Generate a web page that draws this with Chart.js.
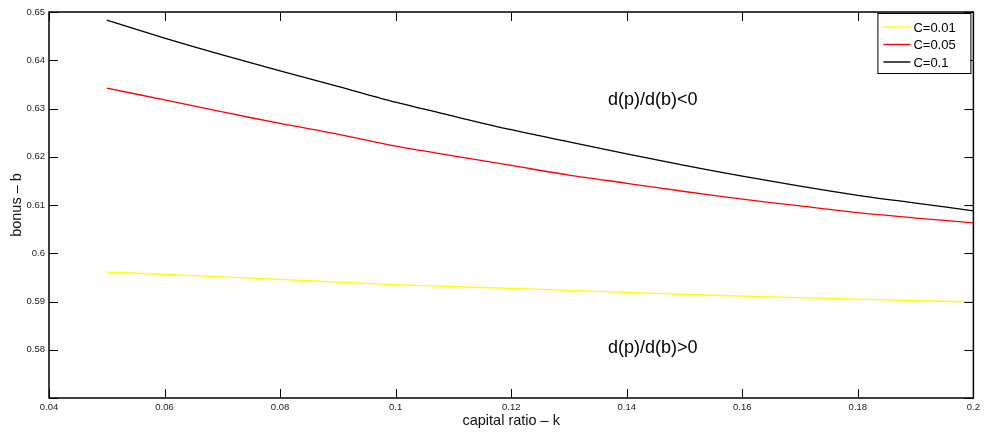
<!DOCTYPE html>
<html>
<head>
<meta charset="utf-8">
<script src="https://cdn.jsdelivr.net/npm/chart.js@4/dist/chart.umd.min.js"></script>
<style>
  html, body { margin: 0; padding: 0; background: #fff; }
  #wrap { width: 984px; height: 432px; }
</style>
</head>
<body>
<div id="wrap"><canvas id="chart" width="984" height="432"></canvas></div>
<script>
// datos
const capitalRatio = [0.05, 0.06, 0.07, 0.08, 0.09, 0.10, 0.11, 0.12, 0.13, 0.14, 0.15, 0.16, 0.17, 0.18, 0.19, 0.20];
const bonusC001 = [0.5961, 0.5956, 0.5951, 0.5946, 0.5940, 0.5935, 0.5931, 0.5927, 0.5923, 0.5919, 0.5915, 0.5911, 0.5908, 0.5905, 0.5902, 0.5899];
const bonusC005 = [0.6342, 0.6318, 0.6293, 0.6269, 0.6247, 0.6222, 0.6202, 0.6182, 0.6162, 0.6145, 0.6128, 0.6112, 0.6098, 0.6084, 0.6073, 0.6063];
const bonusC01  = [0.6483, 0.6446, 0.6411, 0.6378, 0.6346, 0.6313, 0.6284, 0.6256, 0.6231, 0.6206, 0.6182, 0.6160, 0.6139, 0.6120, 0.6104, 0.6088];
const seriesNames = ["C=0.01", "C=0.05", "C=0.1"];
const xTicks = [0.04, 0.06, 0.08, 0.1, 0.12, 0.14, 0.16, 0.18, 0.2];
const yTicks = [0.57, 0.58, 0.59, 0.6, 0.61, 0.62, 0.63, 0.64, 0.65];
const regionLabels = [
  { text: "d(p)/d(b)<0", x: 0.1445, y: 0.6318 },
  { text: "d(p)/d(b)>0", x: 0.1445, y: 0.5804 }
];

const FONT = "'Liberation Sans', Arial, Helvetica, sans-serif";

const toPts = ys => ys.map((v, i) => ({ x: capitalRatio[i], y: v }));

// caja, ticks hacia dentro, leyenda y textos de region
const boxPlugin = {
  id: "boxPlugin",
  afterDraw(chart) {
    const { ctx, chartArea: a, scales } = chart;
    const xs = scales.x, ys = scales.y;
    const tl = 9;
    ctx.save();
    ctx.strokeStyle = "#000";
    ctx.lineWidth = 1;
    ctx.beginPath();
    xTicks.forEach(v => {
      const px = Math.round(xs.getPixelForValue(v)) + 0.5;
      ctx.moveTo(px, a.bottom); ctx.lineTo(px, a.bottom - tl);
      ctx.moveTo(px, a.top); ctx.lineTo(px, a.top + tl);
    });
    yTicks.forEach(v => {
      const py = Math.round(ys.getPixelForValue(v)) + 0.5;
      ctx.moveTo(a.left, py); ctx.lineTo(a.left + tl, py);
      ctx.moveTo(a.right, py); ctx.lineTo(a.right - tl, py);
    });
    ctx.stroke();
    ctx.lineWidth = 1.5;
    ctx.strokeRect(a.left, a.top, a.right - a.left, a.bottom - a.top);

    // textos de region
    ctx.fillStyle = "#000";
    ctx.font = "18px " + FONT;
    ctx.textAlign = "center";
    ctx.textBaseline = "middle";
    regionLabels.forEach(r => {
      ctx.fillText(r.text, xs.getPixelForValue(r.x), ys.getPixelForValue(r.y));
    });

    // leyenda
    const lw = 93, lh = 60;
    const lx = a.right - lw - 3, ly = a.top + 1;
    ctx.fillStyle = "#fff";
    ctx.fillRect(lx, ly, lw, lh);
    ctx.lineWidth = 1;
    ctx.strokeStyle = "#000";
    ctx.strokeRect(lx + 0.5, ly + 0.5, lw, lh);
    ctx.font = "13px " + FONT;
    ctx.textAlign = "left";
    chart.data.datasets.forEach((ds, i) => {
      const yy = ly + 14 + i * 17.5;
      ctx.strokeStyle = ds.borderColor;
      ctx.lineWidth = 1.4;
      ctx.beginPath();
      ctx.moveTo(lx + 6, yy);
      ctx.lineTo(lx + 33, yy);
      ctx.stroke();
      ctx.fillStyle = "#000";
      ctx.fillText(ds.label, lx + 36, yy + 1);
    });
    ctx.restore();
  }
};

const fmt = v => String(+Number(v).toFixed(2));

new Chart(document.getElementById("chart"), {
  type: "line",
  data: {
    datasets: [
      { label: seriesNames[0], data: toPts(bonusC001), borderColor: "#ffff00" },
      { label: seriesNames[1], data: toPts(bonusC005), borderColor: "#ff0000" },
      { label: seriesNames[2], data: toPts(bonusC01), borderColor: "#000000" }
    ].map(d => Object.assign(d, { borderWidth: 1.3, pointRadius: 0, fill: false, tension: 0.3 }))
  },
  options: {
    responsive: false,
    animation: false,
    layout: { padding: { left: 0, top: 12, right: 8, bottom: 0 } },
    plugins: { legend: { display: false }, tooltip: { enabled: false } },
    scales: {
      x: {
        type: "linear",
        min: 0.04,
        max: 0.2,
        afterBuildTicks: s => { s.ticks = xTicks.map(v => ({ value: v })); },
        afterFit: s => { s.height = 34; },
        grid: { display: false, drawTicks: false },
        border: { display: false },
        ticks: { color: "#222", font: { family: FONT, size: 9.5 }, padding: 4, maxRotation: 0, callback: v => fmt(v) },
        title: { display: true, text: "capital ratio – k", color: "#111", font: { family: FONT, size: 14.5 }, padding: { top: 0, bottom: 2 } }
      },
      y: {
        min: 0.57,
        max: 0.65,
        afterBuildTicks: s => { s.ticks = yTicks.map(v => ({ value: v })); },
        afterFit: s => { s.width = 49; },
        grid: { display: false, drawTicks: false },
        border: { display: false },
        ticks: { color: "#222", font: { family: FONT, size: 9.5 }, padding: 4, callback: v => (Math.abs(v - 0.57) < 1e-9 ? "" : fmt(v)) },
        title: { display: true, text: "bonus – b", color: "#111", font: { family: FONT, size: 14.5 }, padding: { top: 8, bottom: 0 } }
      }
    }
  },
  plugins: [boxPlugin]
});
</script>
</body>
</html>
